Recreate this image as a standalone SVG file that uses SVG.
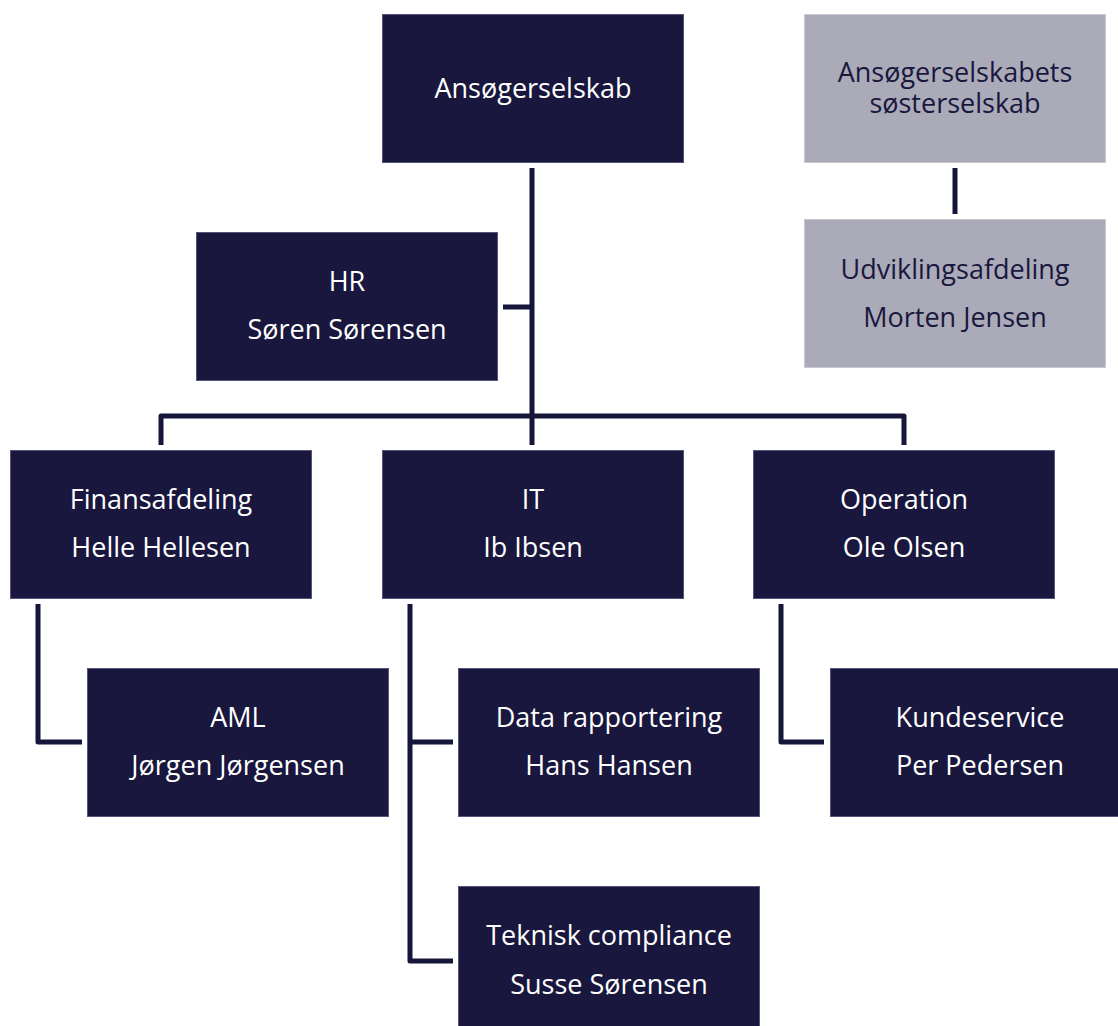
<svg xmlns="http://www.w3.org/2000/svg" width="1118" height="1026" viewBox="0 0 1118 1026">
<style>
.n rect{fill:#19173D;stroke:#55547a;stroke-width:1}
.g rect{fill:#ABAAB9;stroke:#c8c8d2;stroke-width:1}
text{font-family:"Open Sans","Noto Sans","DejaVu Sans",sans-serif;font-size:27px;text-anchor:middle}
.n text{fill:#FFFFFF}
.g text{fill:#19173D}
#connectors path{fill:none;stroke:#16153A;stroke-width:5;stroke-linejoin:round;stroke-linecap:butt}
</style>
<rect width="1118" height="1026" fill="#FFFFFF"/>
<g id="connectors">
<path d="M532,168 V445"/>
<path d="M503,307 H532"/>
<path d="M161,445 V416 H904 V445"/>
<path d="M38,604 V742 H82"/>
<path d="M410,604 V961 H453"/>
<path d="M410,742 H453"/>
<path d="M781,604 V742 H824"/>
<path d="M955,168 V214"/>
</g>
<g id="ansoegerselskab" class="n"><rect x="382.5" y="14.5" width="301" height="148"/><text x="533" y="98">Ansøgerselskab</text></g>
<g id="soesterselskab" class="g"><rect x="804.5" y="14.5" width="301" height="148"/><text x="955" y="82">Ansøgerselskabets</text><text x="955" y="113">søsterselskab</text></g>
<g id="udvikling" class="g"><rect x="804.5" y="219.5" width="301" height="148"/><text x="955" y="279">Udviklingsafdeling</text><text x="955" y="327">Morten Jensen</text></g>
<g id="hr" class="n"><rect x="196.5" y="232.5" width="301" height="148"/><text x="347" y="291">HR</text><text x="347" y="339">Søren Sørensen</text></g>
<g id="finans" class="n"><rect x="10.5" y="450.5" width="301" height="148"/><text x="161" y="509">Finansafdeling</text><text x="161" y="557">Helle Hellesen</text></g>
<g id="it" class="n"><rect x="382.5" y="450.5" width="301" height="148"/><text x="533" y="509">IT</text><text x="533" y="557">Ib Ibsen</text></g>
<g id="operation" class="n"><rect x="753.5" y="450.5" width="301" height="148"/><text x="904" y="509">Operation</text><text x="904" y="557">Ole Olsen</text></g>
<g id="aml" class="n"><rect x="87.5" y="668.5" width="301" height="148"/><text x="238" y="727">AML</text><text x="238" y="775">Jørgen Jørgensen</text></g>
<g id="data" class="n"><rect x="458.5" y="668.5" width="301" height="148"/><text x="609" y="727">Data rapportering</text><text x="609" y="775">Hans Hansen</text></g>
<g id="kundeservice" class="n"><rect x="830.5" y="668.5" width="301" height="148"/><text x="980" y="727">Kundeservice</text><text x="980" y="775">Per Pedersen</text></g>
<g id="teknisk" class="n"><rect x="458.5" y="886.5" width="301" height="148"/><text x="609" y="945">Teknisk compliance</text><text x="609" y="994">Susse Sørensen</text></g>
</svg>
